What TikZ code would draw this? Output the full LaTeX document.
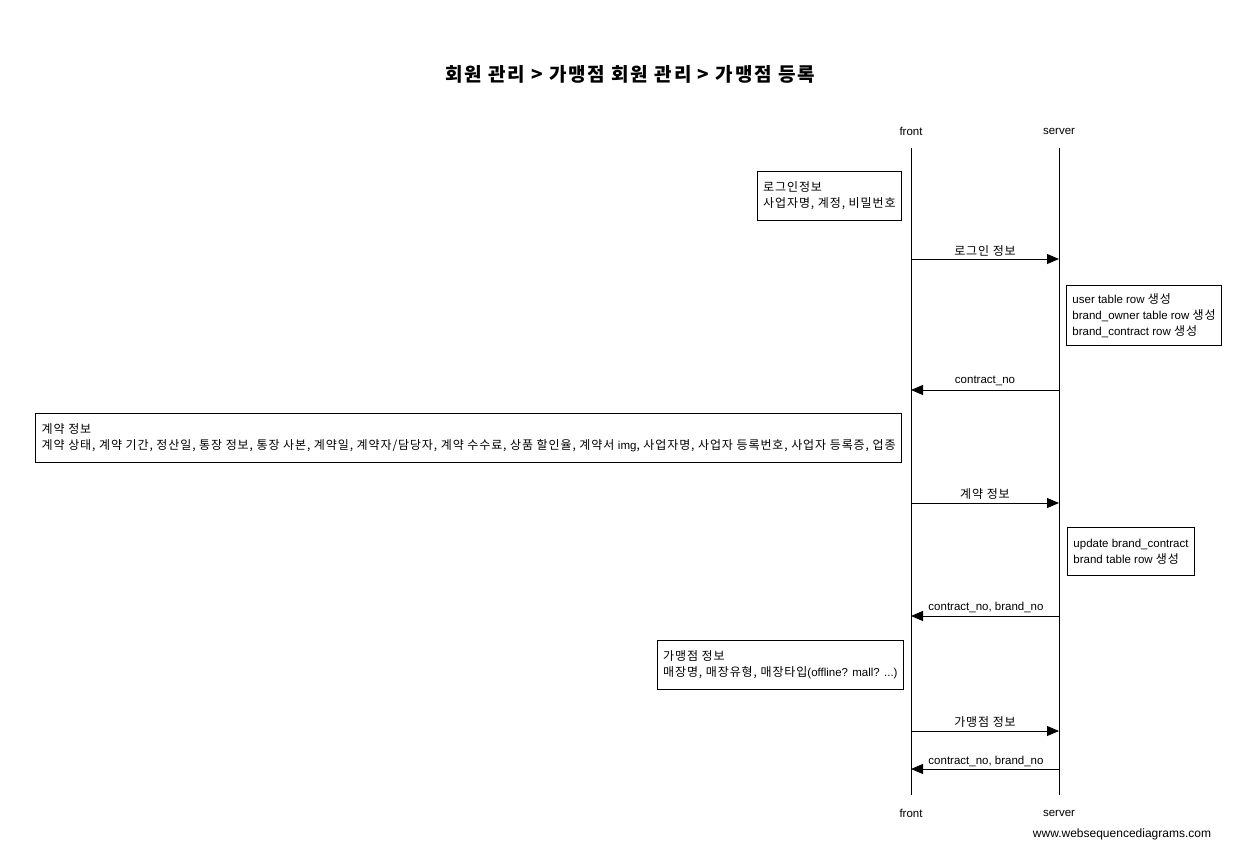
\documentclass[tikz,border=0pt]{standalone}
\usepackage{fontspec}
\setmainfont{Liberation Sans}
\newfontfamily\krfam[LetterSpace=7.5]{Noto Sans CJK KR}
\newfontfamily\krtitle[LetterSpace=10]{Noto Sans CJK KR}
\newcommand\kr{\krfam\fontsize{12}{16}\selectfont}
\usetikzlibrary{arrows.meta}
\tikzset{
  txt/.style={font=\fontsize{11.5}{16}\selectfont, inner sep=0pt},
  krtxt/.style={font=\kr, inner sep=0pt},
  notebox/.style={draw=black, line width=0.9pt, fill=white, align=left, inner xsep=6pt, inner ysep=2pt,
    font=\fontsize{11.5}{16}\selectfont},
  lifeline/.style={draw=black, line width=1pt},
  msg/.style={draw=black, line width=0.9pt, -{Triangle[length=12pt,width=10pt]}},
}
\begin{document}
\begin{tikzpicture}[x=1pt,y=-1pt]
\useasboundingbox (0,0) rectangle (1257,853);
% title
\node[font=\krtitle\fontsize{19}{22}\selectfont\bfseries, inner sep=0pt] (title) at (630,74) {회원 관리 > 가맹점 회원 관리 > 가맹점 등록};
% lifelines
\node[txt] (ft) at (911,131) {front};
\node[txt] (st) at (1059,131) {server};
\node[txt] (fb) at (911,813) {front};
\node[txt] (sb) at (1059,813) {server};
\coordinate (ftop) at (911,148);
\coordinate (fbot) at (911,795);
\coordinate (stop) at (1059,148);
\coordinate (sbot) at (1059,795);
\draw[lifeline] (ftop) -- (fbot);
\draw[lifeline] (stop) -- (sbot);
% note 1
\node[notebox, anchor=north east, minimum height=49pt] (n1) at (902,171) {{\kr 로그인정보}\\{\kr 사업자명, 계정, 비밀번호}};
% msg 1
\coordinate (f1) at (911,259); \coordinate (s1) at (1059,259);
\draw[msg] (f1) -- (s1);
\node[krtxt] (l1) at (985,251) {로그인 정보};
% note 2
\node[notebox, anchor=north west, minimum height=60pt] (n2) at (1066,285) {user table row {\kr 생성}\\brand\_owner table row {\kr 생성}\\brand\_contract row {\kr 생성}};
% msg 2
\coordinate (f2) at (911,390); \coordinate (s2) at (1059,390);
\draw[msg] (s2) -- (f2);
\node[txt] (l2) at (985,381) {contract\_no};
% note 3
\node[notebox, anchor=north east, minimum height=49pt] (n3) at (902,413) {{\kr 계약 정보}\\{\kr 계약 상태, 계약 기간, 정산일, 통장 정보, 통장 사본, 계약일, 계약자/담당자, 계약 수수료, 상품 할인율, 계약서 }img{\kr , 사업자명, 사업자 등록번호, 사업자 등록증, 업종}};
% msg 3
\coordinate (f3) at (911,503); \coordinate (s3) at (1059,503);
\draw[msg] (f3) -- (s3);
\node[krtxt] (l3) at (985,494) {계약 정보};
% note 4
\node[notebox, anchor=north west, minimum height=48pt] (n4) at (1067,527) {update brand\_contract\\brand table row {\kr 생성}};
% msg 4
\coordinate (f4) at (911,616); \coordinate (s4) at (1059,616);
\draw[msg] (s4) -- (f4);
\node[txt] (l4) at (986,607) {contract\_no, brand\_no};
% note 5
\node[notebox, anchor=north east, minimum height=49pt] (n5) at (904,640) {{\kr 가맹점 정보}\\{\kr 매장명, 매장유형, 매장타입}(offline? mall? ...)};
% msg 5
\coordinate (f5) at (911,731); \coordinate (s5) at (1059,731);
\draw[msg] (f5) -- (s5);
\node[krtxt] (l5) at (985,722) {가맹점 정보};
% msg 6
\coordinate (f6) at (911,769); \coordinate (s6) at (1059,769);
\draw[msg] (s6) -- (f6);
\node[txt] (l6) at (986,761) {contract\_no, brand\_no};
% footer
\node[txt, font=\fontsize{12}{14}\selectfont] (foot) at (1122,834) {www.websequencediagrams.com};
\end{tikzpicture}
\end{document}
